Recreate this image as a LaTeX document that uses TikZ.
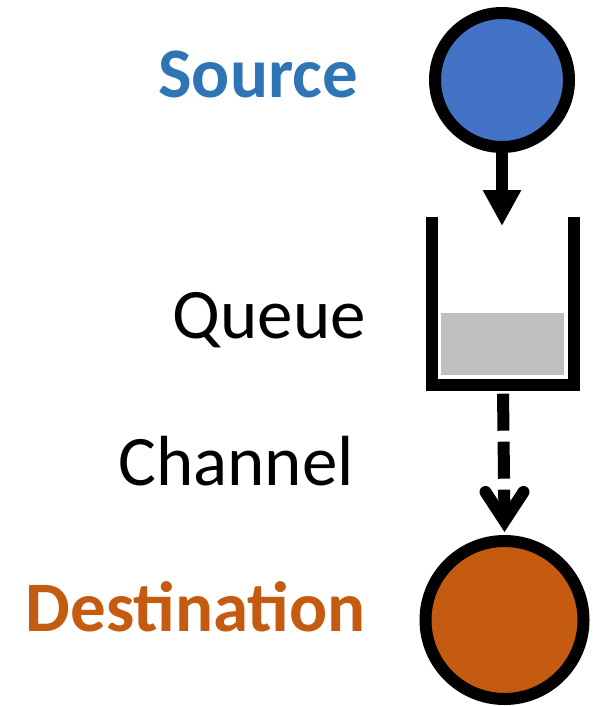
\documentclass[tikz,border=0pt]{standalone}
\usepackage{fontspec}
\setmainfont{Carlito}
\usetikzlibrary{arrows.meta}
\definecolor{srcfill}{HTML}{4472C4}
\definecolor{srctext}{HTML}{2E75B6}
\definecolor{dstfill}{HTML}{C55A11}
\definecolor{qfill}{HTML}{BFBFBF}
\begin{document}
\begin{tikzpicture}[x=1pt,y=-1pt,
  lbl/.style={anchor=base east,inner sep=0pt,font=\fontsize{71}{80}\selectfont},
  blob/.style={circle,draw=black,line width=12pt,inner sep=0pt},
  thick line/.style={line width=12pt}]
\useasboundingbox (0,0) rectangle (593,706);
% nodes
\node[blob,fill=srcfill,minimum size=134pt] (src) at (502,80) {};
\node[blob,fill=dstfill,minimum size=158pt] (dst) at (504.5,620) {};
\node[inner sep=0pt,minimum width=141pt,minimum height=167.5pt] (q) at (503,300.75) {};
\fill[qfill] (441,313) rectangle (564,375);
\draw[thick line,line join=miter] (q.north west) -- (q.south west) -- (q.south east) -- (q.north east);
% labels
\node[lbl,text=srctext,font=\fontsize{71}{80}\selectfont\bfseries] (lsrc) at (358,98) {Source};
\node[lbl] (lq) at (366,338) {Queue};
\node[lbl] (lch) at (354,485) {Channel};
\node[lbl,text=dstfill,font=\fontsize{71}{80}\selectfont\bfseries] (ldst) at (366,631) {Destination};
% connectors
\coordinate (qin) at (502,226);
\draw[thick line,-{Triangle[length=36pt,width=36pt]}] (src.south) -- (qin);
\coordinate (tip) at ([yshift=14pt]dst.north);
\draw[thick line,dash pattern=on 37pt off 11pt,dash phase=-3pt] ([yshift=-6pt]q.south) -- (tip);
\draw[thick line,line cap=round,line join=miter] ([xshift=-19pt,yshift=29pt]tip) -- (tip) -- ([xshift=19pt,yshift=29pt]tip);
\end{tikzpicture}
\end{document}
